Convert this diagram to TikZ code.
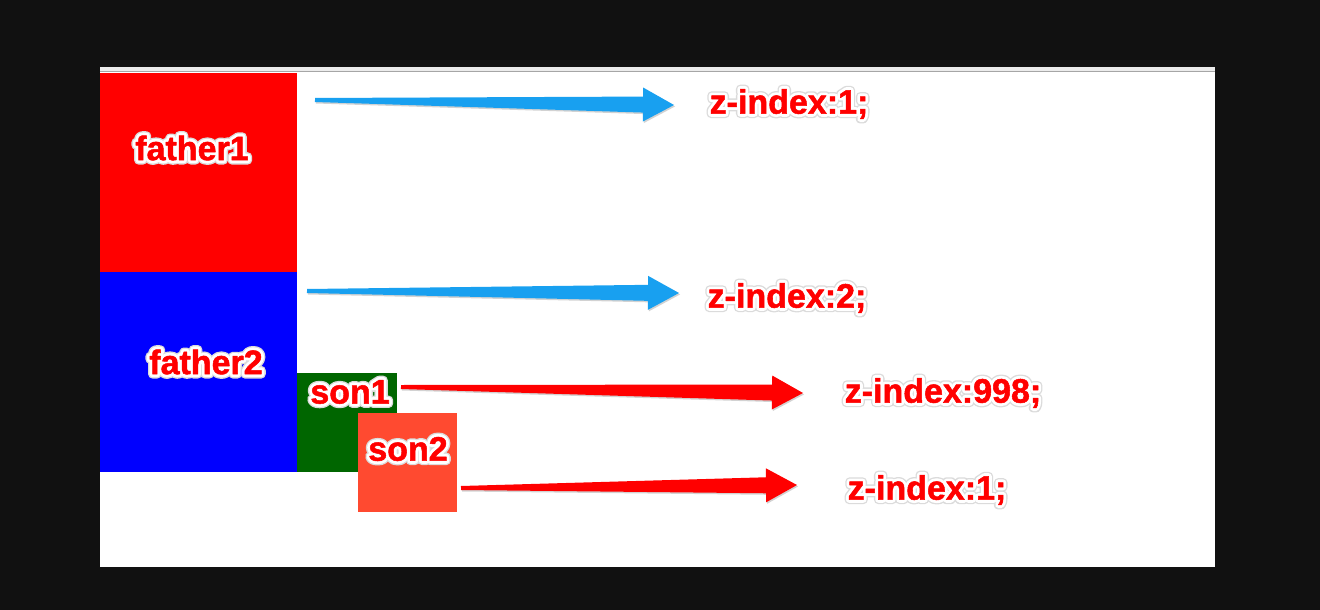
\documentclass[tikz,border=0pt]{standalone}
\usepackage{fontspec}
\setmainfont{Liberation Sans}
\newfontfamily\haloFont{Liberation Sans Bold}[FakeBold=26]
\newfontfamily\rimFont{Liberation Sans Bold}[FakeBold=18]
\newfontfamily\inkFont{Liberation Sans Bold}[FakeBold=1.5]
\usetikzlibrary{calc,shadows}

\definecolor{pagebg}{HTML}{111111}
\definecolor{tomatobox}{HTML}{FF4A30}
\definecolor{greenbox}{HTML}{006600}
\definecolor{skyarrow}{HTML}{18A0F0}

% red text with a white rim and a soft grey halo
\newcommand{\rimtext}[1]{\leavevmode\special{pdf:literal direct 1 j 1 J}%
  \rlap{\haloFont\color{black!14}#1}\rlap{\rimFont\color{white}#1}{\inkFont\color{red}#1}}

% tapered arrow: colour, tail, tip
\newcommand{\taperarrow}[3]{%
  \coordinate (neck) at ($(#3)!31pt!(#2)$);
  \fill[#1, arrowshadow]
    ($(#2)!2pt!90:(#3)$) -- ($(neck)!8pt!-90:(#2)$) -- ($(neck)!17pt!-90:(#2)$)
    -- (#3) -- ($(neck)!17pt!90:(#2)$) -- ($(neck)!8pt!90:(#2)$)
    -- ($(#2)!2pt!-90:(#3)$) -- cycle;
}

\begin{document}
\begin{tikzpicture}[x=1pt, y=-1pt,
  % boxes
  box/.style={draw=none, inner sep=0pt, outer sep=0pt, anchor=north west},
  % labels
  lbl/.style={inner sep=0pt, font=\fontsize{34}{34}\selectfont},
  arrowshadow/.style={drop shadow={shadow xshift=1pt, shadow yshift=-1.5pt, opacity=0.35}}
]

% page
\fill[pagebg] (0,0) rectangle (1320,610);
\fill[white] (100,67) rectangle (1215,567);
\fill[gray!15] (100,67) rectangle (1215,71);
\draw[gray!70, line width=0.8pt] (100,71) -- (1215,71);

% boxes
\node[box, fill=red, minimum width=197pt, minimum height=199pt] (f1box) at (100,73) {};
\node[box, fill=blue, minimum width=197pt, minimum height=200pt] (f2box) at (100,272) {};
\node[box, fill=greenbox, minimum width=100pt, minimum height=99pt] (s1box) at (297,373) {};
\node[lbl] (s1) at (350,392) {\rimtext{son1}};
\node[box, fill=tomatobox, minimum width=99pt, minimum height=99pt] (s2box) at (358,413) {};

\node[lbl] (f1) at (192,148) {\rimtext{father1}};
\node[lbl] (f2) at (206,362) {\rimtext{father2}};
\node[lbl] (s2) at (408,449) {\rimtext{son2}};

% z-index labels
\node[lbl] (z1) at (789,104) {\rimtext{z-index:1;}};
\node[lbl] (z2) at (787,298) {\rimtext{z-index:2;}};
\node[lbl] (z3) at (943,393) {\rimtext{z-index:998;}};
\node[lbl] (z4) at (927,490) {\rimtext{z-index:1;}};

% arrow ends
\coordinate (t1) at (315,100); \coordinate (h1) at (674,105);
\coordinate (t2) at (307,291); \coordinate (h2) at (679,293);
\coordinate (t3) at (401,387); \coordinate (h3) at (803,393);
\coordinate (t4) at (461,488); \coordinate (h4) at (797,485);

\taperarrow{skyarrow}{t1}{h1}
\taperarrow{skyarrow}{t2}{h2}
\taperarrow{red}{t3}{h3}
\taperarrow{red}{t4}{h4}

\end{tikzpicture}
\end{document}
